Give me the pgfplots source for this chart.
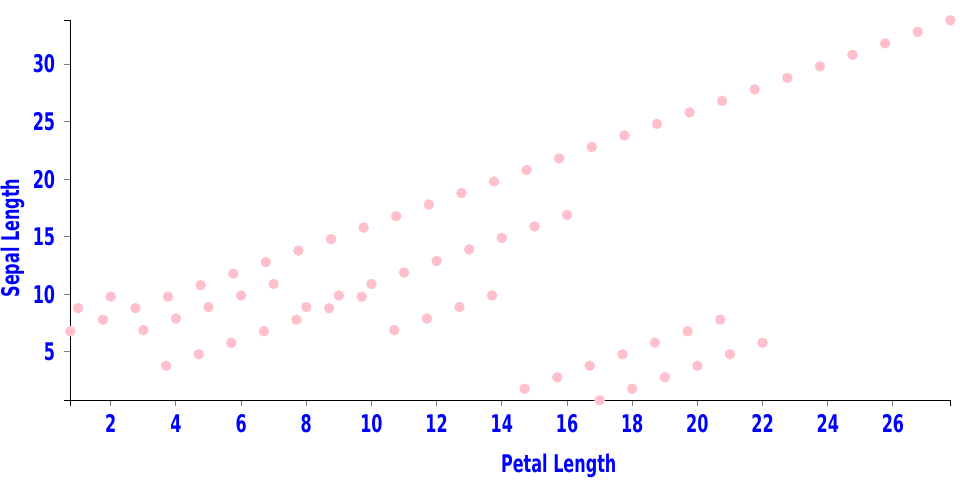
\documentclass[border=0pt]{standalone}
\usepackage{fontspec}
\setmainfont{DejaVu Sans}[FakeStretch=0.66]
\usepackage{pgfplots}
\pgfplotsset{compat=1.18}
\definecolor{lblblue}{RGB}{0,0,255}
\definecolor{dotpink}{RGB}{255,192,203}
\newcommand\lblfont{\fontsize{24.3pt}{26pt}\selectfont\bfseries}
\begin{document}
\begin{tikzpicture}
\useasboundingbox (-70.3pt,-99.7pt) rectangle (889.7pt,400.3pt);
\begin{axis}[
    scale only axis,
    width=880pt, height=380pt,
    xmin=0.76, xmax=27.76,
    ymin=0.8, ymax=33.8,
    axis lines*=left,
    axis line style={black, line width=1pt},
    xtick={2,4,...,26},
    ytick={5,10,...,30},
    tick align=outside,
    major tick length=6pt,
    major tick style={draw=gray, line width=1pt},
    extra x ticks={0.76,27.76}, extra x tick labels={},
    extra x tick style={major tick style={draw=black}},
    extra y ticks={0.8,33.8}, extra y tick labels={},
    extra y tick style={major tick style={draw=black}},
    /pgf/number format/assume math mode=true,
    ticklabel style={font=\lblfont, text=lblblue, inner sep=0pt},
    xticklabel style={anchor=base, yshift=-25.7pt},
    yticklabel style={anchor=east, xshift=-9pt},
    xlabel={Petal Length},
    ylabel={Sepal Length},
    label style={font=\lblfont, text=lblblue, inner sep=0pt},
    xlabel style={at={([yshift=-65.7pt]axis description cs:0.555,0)}, anchor=center},
    ylabel style={at={([xshift=-57.3pt]axis description cs:0,0.427)}, anchor=center},
    clip=false,
]
% diagonal run
\addplot[only marks, mark=*, mark size=5pt, color=dotpink] coordinates {
    (0.76,6.8) (1.76,7.8) (2.76,8.8) (3.76,9.8) (4.76,10.8) (5.76,11.8) (6.76,12.8)
    (7.76,13.8) (8.76,14.8) (9.76,15.8) (10.76,16.8) (11.76,17.8) (12.76,18.8) (13.76,19.8)
    (14.76,20.8) (15.76,21.8) (16.76,22.8) (17.76,23.8) (18.76,24.8) (19.76,25.8) (20.76,26.8)
    (21.76,27.8) (22.76,28.8) (23.76,29.8) (24.76,30.8) (25.76,31.8) (26.76,32.8) (27.76,33.8)
};
% integer x
\addplot[only marks, mark=*, mark size=5pt, color=dotpink] coordinates {
    (1,8.8) (2,9.8) (3,6.9) (4,7.9) (5,8.9) (6,9.9) (7,10.9) (8,8.9) (9,9.9) (10,10.9)
    (11,11.9) (12,12.9) (13,13.9) (14,14.9) (15,15.9) (16,16.9)
    (17,0.8) (18,1.8) (19,2.8) (20,3.8) (21,4.8) (22,5.8)
};
% x = n.7
\addplot[only marks, mark=*, mark size=5pt, color=dotpink] coordinates {
    (3.7,3.8) (4.7,4.8) (5.7,5.8) (6.7,6.8) (7.7,7.8) (8.7,8.8) (9.7,9.8)
    (10.7,6.9) (11.7,7.9) (12.7,8.9) (13.7,9.9)
    (14.7,1.8) (15.7,2.8) (16.7,3.8) (17.7,4.8) (18.7,5.8) (19.7,6.8) (20.7,7.8)
};
\end{axis}
\end{tikzpicture}
\end{document}
